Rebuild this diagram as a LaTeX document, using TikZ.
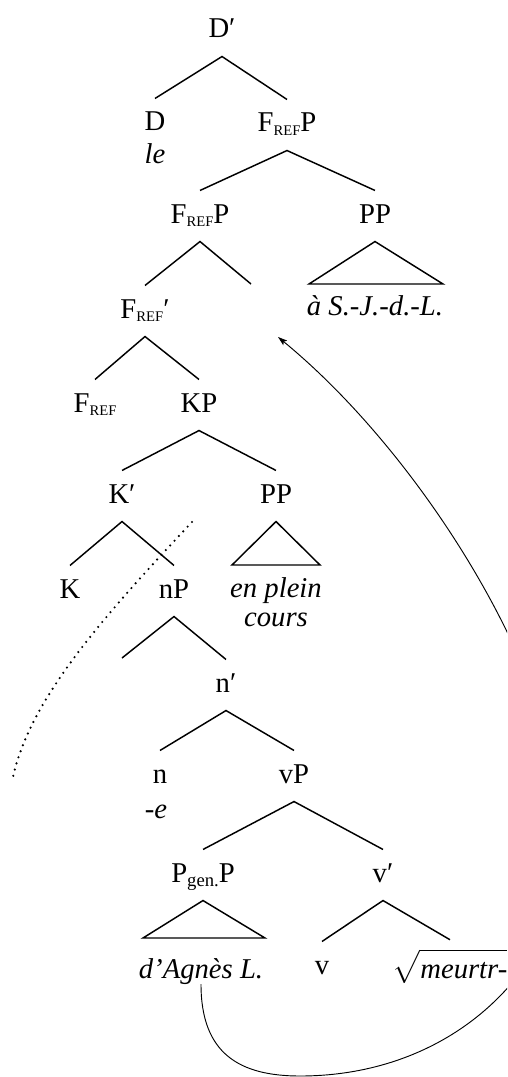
\documentclass[tikz,border=0pt]{standalone}
\usepackage{amsmath}
\usepackage{fontspec}
\setmainfont{Liberation Serif}
\usetikzlibrary{arrows.meta}
\newcommand\refsub{\raisebox{-2.5pt}{\fontsize{11}{12}\selectfont REF}}
\newcommand\gensub{\raisebox{-3pt}{\fontsize{14}{15}\selectfont gen.}}
\newcommand\prm{\char"2032}
\begin{document}
\begin{tikzpicture}[x=0.75pt,y=-0.75pt,
  lbl/.style={anchor=base,inner sep=0pt,outer sep=0pt,text height=24.4pt,text depth=13.9pt,font=\fontsize{21.5}{25}\selectfont},
  leaf/.style={anchor=base,inner sep=0pt,outer sep=0pt,font=\fontsize{21.5}{25}\selectfont\itshape},
  br/.style={line width=1.1pt,line join=miter},
  mv/.style={line width=0.7pt,-{Stealth[length=7pt,width=4.5pt,inset=1.5pt]}},
  dots/.style={line width=1.8pt,line cap=round,dash pattern=on 0pt off 4.8pt}]
\useasboundingbox (0,0) rectangle (507,1077);
\begin{scope}
\clip (0,0) rectangle (507,1077);
% nodes
\node[lbl] (dbar) at (222,38) {D\prm};
\node[lbl] (d) at (155,131) {D};
\node[leaf] (le) at (155,163) {le};
\node[lbl] (fp1) at (287,132) {F\refsub P};
\node[lbl] (fp2) at (200,223) {F\refsub P};
\node[lbl] (pp1) at (375,223) {PP};
\node[leaf] (sjdl) at (375,315) {à S.-J.-d.-L.};
\node[lbl] (frbar) at (145,318) {F\refsub\prm};
\node[lbl] (fref) at (95,412) {F\refsub};
\node[lbl] (kp) at (199,412) {KP};
\node[lbl] (kbar) at (122,503) {K\prm};
\node[lbl] (pp2) at (276,503) {PP};
\node[leaf] (enplein) at (276,597) {en plein};
\node[leaf] (cours) at (276,626) {cours};
\node[lbl] (k) at (70,598) {K};
\node[lbl] (np) at (174,598) {nP};
\node[lbl] (nbar) at (226,692) {n\prm};
\node[lbl] (n) at (160,783) {n};
\node[leaf] (e) at (156,818) {-e};
\node[lbl] (vp) at (294,783) {vP};
\node[lbl] (pgen) at (203,882) {P\gensub P};
\node[lbl] (vbar) at (383,882) {v\prm};
\node[leaf] (agnes) at (201,978) {d’Agnès L.};
\node[lbl] (v) at (322,974) {v};
\node[leaf,font=\fontsize{21.5}{25}\selectfont,inner ysep=7pt] (root) at (450,978) {$\sqrt{\mbox{\itshape meurtr-}\rule[-3pt]{0pt}{21pt}}$};
% free ends
\coordinate (fp2r) at (251,284);
\coordinate (npl) at (122,658);
\coordinate (t1l) at (309,284); \coordinate (t1r) at (443,284);
\coordinate (t2l) at (232,565); \coordinate (t2r) at (320,565);
\coordinate (t3l) at (143,938); \coordinate (t3r) at (265,938);
\coordinate (tgt) at (278,337);
\coordinate (dtop) at (192,522); \coordinate (dbot) at (13,777);
% branches
\draw[br] (d.north) -- (dbar.south) -- (fp1.north);
\draw[br] (fp2.north) -- (fp1.south) -- (pp1.north);
\draw[br] (t1l) -- (pp1.south) -- (t1r) -- cycle;
\draw[br] (frbar.north) -- (fp2.south) -- (fp2r);
\draw[br] (fref.north) -- (frbar.south) -- (kp.north);
\draw[br] (kbar.north) -- (kp.south) -- (pp2.north);
\draw[br] (t2l) -- (pp2.south) -- (t2r) -- cycle;
\draw[br] (k.north) -- (kbar.south) -- (np.north);
\draw[br] (npl) -- (np.south) -- (nbar.north);
\draw[br] (n.north) -- (nbar.south) -- (vp.north);
\draw[br] (pgen.north) -- (vp.south) -- (vbar.north);
\draw[br] (t3l) -- (pgen.south) -- (t3r) -- cycle;
\draw[br] (v.north) -- (vbar.south) -- (root.north);
% movement
\draw[mv] (agnes.south) .. controls +(0,70) and (240,1076) .. (300,1076)
  .. controls (420,1076) and (520,1010) .. (560,900)
  .. controls (600,740) and (440,470) .. (tgt);
\draw[dots] (dtop) .. controls (100,620) and (30,700) .. (dbot);
\end{scope}
\end{tikzpicture}
\end{document}
